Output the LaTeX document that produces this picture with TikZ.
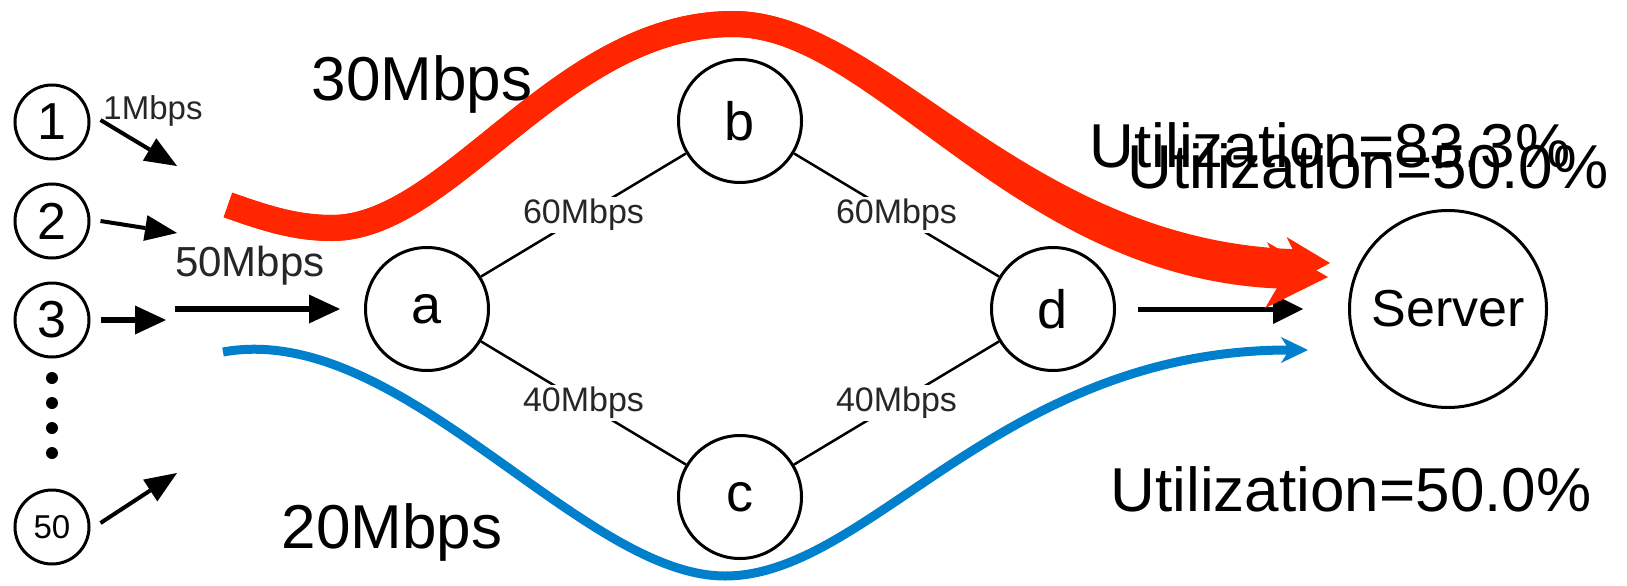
\documentclass[tikz,border=0pt]{standalone}
\usepackage{fontspec}
\setmainfont{Liberation Sans}
\usetikzlibrary{arrows.meta}
\definecolor{flowred}{RGB}{255,38,0}
\definecolor{flowblue}{RGB}{0,128,204}
\newcommand{\fsz}[1]{\fontsize{#1}{#1}\selectfont}
\begin{document}
\begin{tikzpicture}[x=1pt,y=-1pt,
  src/.style={circle,draw,line width=3pt,minimum size=74pt,inner sep=0pt,font=\fsz{52}},
  hub/.style={circle,draw,line width=3pt,minimum size=123pt,inner sep=0pt,font=\fsz{54}},
  srv/.style={circle,draw,line width=3pt,minimum size=197pt,inner sep=0pt,font=\fsz{52}},
  dotnode/.style={circle,fill=black,inner sep=0pt,minimum size=12pt},
  edge/.style={line width=2.5pt},
  elabel/.style={fill=white,inner sep=2pt,text=black!85,font=\fsz{34}},
  biglabel/.style={inner sep=0pt,anchor=base,font=\fsz{62}},
  smalllabel/.style={inner sep=0pt,anchor=base,text=black!85},
  thinarrow/.style={line width=4pt,-{Triangle[length=32pt,width=26pt,line width=0pt]}},
  thickarrow/.style={line width=6pt,-{Triangle[length=31pt,width=29pt,line width=0pt]}},
  redflow/.style={draw=flowred,line width=26pt,line cap=butt},
  blueflow/.style={draw=flowblue,line width=9pt,line cap=butt,-{Stealth[length=27pt,width=26pt,inset=8pt,line width=0pt]}}
]
\useasboundingbox (0,0) rectangle (1627,586);

% source nodes
\node[src] (n1) at (52,122) {1};
\node[src] (n2) at (52,221) {2};
\node[src] (n3) at (52,320) {3};
\node[src,font=\fsz{33}] (n50) at (52,527) {50};
\node[dotnode] (dt1) at (52,378) {};
\node[dotnode] (dt2) at (52,403) {};
\node[dotnode] (dt3) at (52,428) {};
\node[dotnode] (dt4) at (52,453) {};

% network nodes
\node[hub] (a) at (427,309) {a};
\node[hub] (b) at (740,121) {b};
\node[hub] (c) at (740,497) {c};
\node[hub] (d) at (1053,309) {d};
\node[srv] (server) at (1448,309) {Server};

% links
\draw[edge] (a) -- node[elabel] (lab) {60Mbps} (b);
\draw[edge] (b) -- node[elabel] (lbd) {60Mbps} (d);
\draw[edge] (a) -- node[elabel] (lac) {40Mbps} (c);
\draw[edge] (c) -- node[elabel] (lcd) {40Mbps} (d);

% incoming arrows
\coordinate (t1) at (177,166);
\coordinate (t2) at (177,233);
\coordinate (t3) at (166,320);
\coordinate (t50) at (177,473);
\coordinate (s50) at (175,309);
\draw[thinarrow] ([shift={(10,-2)}]n1.east) -- (t1);
\draw[thinarrow] ([shift={(10,0)}]n2.east) -- (t2);
\draw[thickarrow] ([shift={(10,0)}]n3.east) -- (t3);
\draw[thinarrow] ([shift={(10,-4)}]n50.east) -- (t50);
\draw[thickarrow] (s50) -- ([shift={(-24,0)}]a.west);
\node[smalllabel,font=\fsz{33}] (l1) at (153,119) {1Mbps};
\node[smalllabel,font=\fsz{42}] (l50) at (250,276) {50Mbps};

% d -> server
\draw[line width=5pt,-{Triangle[length=30pt,width=30pt,line width=0pt]}]
  ([shift={(22,0)}]d.east) -- ([shift={(-45,0)}]server.west);

% red flow (two overlapping arrows)
\coordinate (rs) at (228,205);
\coordinate (rA) at (1330,263);
\coordinate (rB) at (1328,277);
\draw[redflow,-{Stealth[length=62pt,width=66pt,inset=18pt,line width=0pt]}]
  (rs) .. controls (265,218) and (295,228) .. (332,228)
  .. controls (450,228) and (560,24) .. (733,24)
  .. controls (880,24) and (1020,268) .. (rB);
\draw[redflow,-{Stealth[length=44pt,width=50pt,inset=13pt,line width=0pt]}]
  (rs) .. controls (265,218) and (295,228) .. (332,228)
  .. controls (450,228) and (560,24) .. (733,24)
  .. controls (880,24) and (1020,256) .. (rA);

% blue flow
\coordinate (bs) at (223,352);
\coordinate (be) at (1308,350);
\draw[blueflow] (bs) .. controls (400,320) and (580,576) .. (725,576)
  .. controls (870,576) and (1000,350) .. (be);

% big labels
\node[biglabel] (l30) at (422,100) {30Mbps};
\node[biglabel] (l20) at (392,548) {20Mbps};
\node[biglabel] (u1) at (1330,167) {Utilization=83.3\%};
\node[biglabel] (u2) at (1368,188) {Utilization=50.0\%};
\node[biglabel] (u3) at (1351,511) {Utilization=50.0\%};
\end{tikzpicture}
\end{document}
